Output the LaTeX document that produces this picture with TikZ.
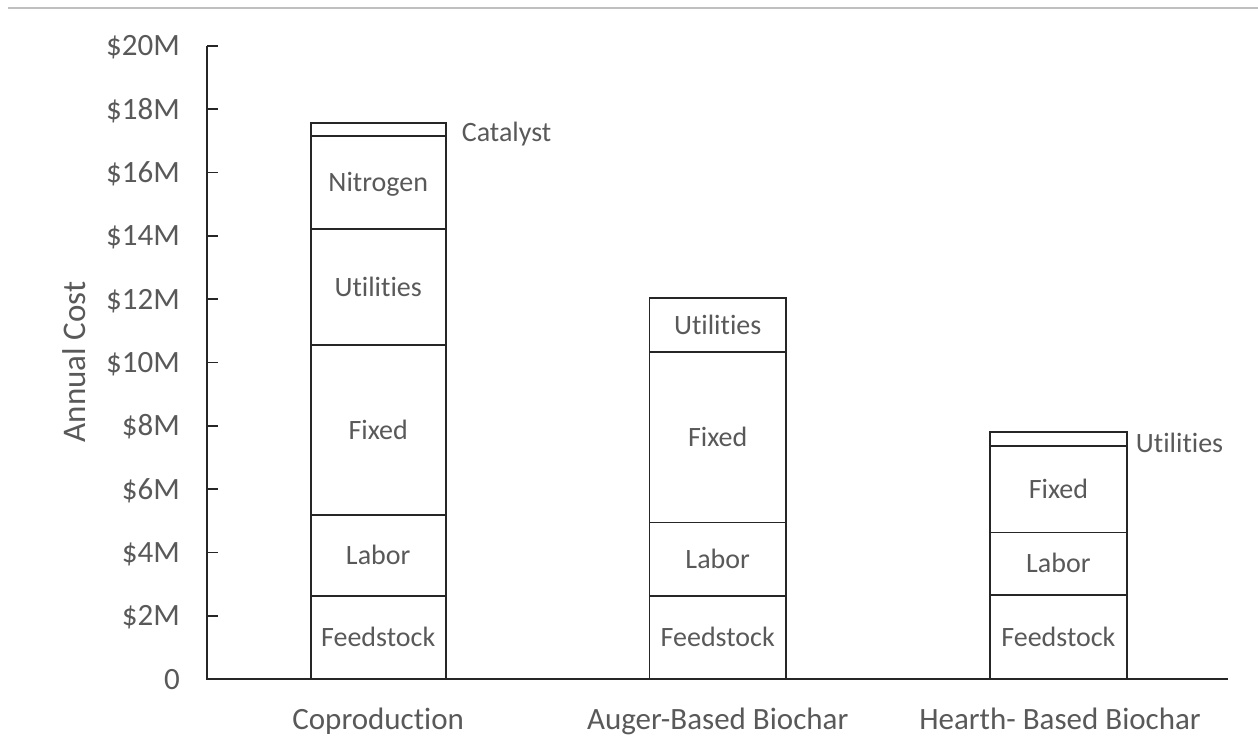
\documentclass[tikz,border=0pt]{standalone}
\usepackage{fontspec}
\setmainfont{Carlito}[Ligatures=NoCommon]
\definecolor{txt}{HTML}{595959}
\definecolor{ln}{HTML}{262626}
\definecolor{frame}{HTML}{BFBFBF}
\begin{document}
\begin{tikzpicture}[x=1pt,y=-1pt,
  seg/.style={draw=ln, line width=1.6pt, inner sep=0pt, text=txt,
    font=\fontsize{28}{33}\selectfont, text height=18pt, text depth=0pt, anchor=center},
  thin/.style={text height=0pt, text depth=0pt, font=\fontsize{1}{1}\selectfont},
  cop/.style={seg, minimum width=135pt},
  aug/.style={seg, minimum width=136.7pt},
  hea/.style={seg, minimum width=136.7pt},
  ticklab/.style={text=txt, font=\fontsize{31}{36}\selectfont, inner sep=0pt,
    text height=20pt, text depth=0pt, anchor=east},
  catlab/.style={text=txt, font=\fontsize{31}{36}\selectfont, inner sep=0pt, anchor=base},
  sidelab/.style={text=txt, font=\fontsize{28}{33}\selectfont, inner sep=0pt, anchor=base west},
  axisline/.style={draw=ln, line width=1.6pt}
]
\useasboundingbox (0,0) rectangle (1258,738);
\draw[frame, line width=1.5pt] (8,8) -- (1258,8);

% axes
\coordinate (ytop) at (207,46);
\coordinate (orig) at (207,679);
\coordinate (xend) at (1228,679);
\draw[axisline] (ytop) -- (orig) -- (xend);
\foreach \i/\lab in {1/\$2M,2/\$4M,3/\$6M,4/\$8M,5/\$10M,6/\$12M,7/\$14M,8/\$16M,9/\$18M,10/\$20M}{
  \draw[axisline] (207,679-63.3*\i) -- (218,679-63.3*\i);
  \node[ticklab] (t\i) at (180,679-63.3*\i) {\lab};
}
\node[ticklab] (t0) at (180,679) {0};
\node[text=txt, font=\fontsize{33}{38}\selectfont, inner sep=0pt, rotate=90, anchor=base] (ytitle) at (85,362) {Annual Cost};

% Coproduction
\node[cop, minimum height=83.3pt] (cf) at (378.2,637.35) {Feedstock};
\node[cop, minimum height=80.7pt] (cl) at (378.2,555.35) {Labor};
\node[cop, minimum height=170pt] (cx) at (378.2,430) {Fixed};
\node[cop, minimum height=115.7pt] (cu) at (378.2,287.15) {Utilities};
\node[cop, minimum height=93.3pt] (cn) at (378.2,182.65) {Nitrogen};
\node[cop, thin, minimum height=12.7pt] (cc) at (378.2,129.65) {};
\node[sidelab] (ccl) at (461.7,141.5) {Catalyst};

% Auger
\node[aug, minimum height=83.3pt] (af) at (717.7,637.35) {Feedstock};
\node[aug, minimum height=73.4pt] (al) at (717.7,559) {Labor};
\node[aug, minimum height=170.6pt] (ax) at (717.7,437) {Fixed};
\node[aug, minimum height=53.6pt] (au) at (717.7,325) {Utilities};

% Hearth
\node[hea, minimum height=84pt] (hf) at (1058.4,637) {Feedstock};
\node[hea, minimum height=62.7pt] (hl) at (1058.4,563.65) {Labor};
\node[hea, minimum height=86.3pt] (hx) at (1058.4,489.15) {Fixed};
\node[hea, thin, minimum height=14.3pt] (hu) at (1058.4,438.85) {};
\node[sidelab] (hul) at (1135.7,452.5) {Utilities};

% categories
\node[catlab] (c1) at (378.2,729) {Coproduction};
\node[catlab] (c2) at (717.7,729) {Auger-Based Biochar};
\node[catlab] (c3) at (1060,729) {Hearth- Based Biochar};
\end{tikzpicture}
\end{document}
